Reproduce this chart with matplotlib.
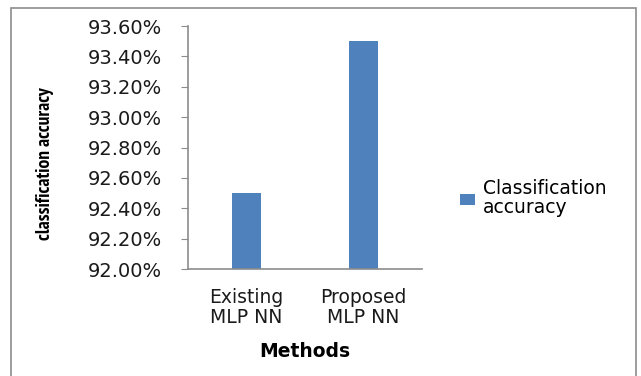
import matplotlib
matplotlib.use("Agg")
import matplotlib.pyplot as plt
from matplotlib.patches import Rectangle
from matplotlib.ticker import FuncFormatter, MultipleLocator

categories = ["Existing\nMLP NN", "Proposed\nMLP NN"]
values = [92.50, 93.50]
series_name = "Classification\naccuracy"

fig = plt.figure(figsize=(6.41, 3.76), dpi=100)
fig.patch.set_facecolor("white")

# outer frame
fig.patches.append(Rectangle((11/641, -0.1), (636-11)/641, 1.1 - 8/376,
                             transform=fig.transFigure, fill=False,
                             edgecolor="#8c8c8c", linewidth=1.2))

ax = fig.add_axes([188/641, 1-269/376, (422-188)/641, (269-26)/376])
x = list(range(len(categories)))
bars = ax.bar(x, values, width=0.24, color="#4F81BD", label=series_name)
ax.set_ylim(92.0, 93.6)
ax.set_xlim(-0.5, 1.5)
ax.yaxis.set_major_locator(MultipleLocator(0.2))
ax.yaxis.set_major_formatter(FuncFormatter(lambda v, p: f"{v:.2f}%"))
ax.set_xticks(x)
ax.set_xticklabels(categories, fontsize=13.5, color="#1a1a1a", linespacing=1.05)
for s in ["top", "right"]:
    ax.spines[s].set_visible(False)
for s in ["left", "bottom"]:
    ax.spines[s].set_color("#8c8c8c")
    ax.spines[s].set_linewidth(1.2)
ax.tick_params(axis="y", direction="out", length=5, color="#8c8c8c",
               labelsize=14, labelcolor="#1a1a1a", pad=14)
ax.tick_params(axis="x", length=0, pad=14)

ax.set_xlabel("Methods", fontsize=13.5, fontweight="bold", labelpad=11)
fig.text(45/641, 1-164/376, "classification accuracy", rotation=90,
         ha="center", va="center", fontsize=14, fontweight="bold",
         family=["PT Sans Narrow", "DejaVu Sans"])

leg = fig.legend(handles=[bars], labels=[series_name], loc="upper left",
                 bbox_to_anchor=(452/641, 1-172/376), frameon=False,
                 fontsize=13.5, handlelength=0.8, handleheight=0.5,
                 handletextpad=0.45, borderaxespad=0, labelspacing=0.2)
for t in leg.get_texts():
    t.set_linespacing(1.0)

fig.savefig("out.png", dpi=100)
